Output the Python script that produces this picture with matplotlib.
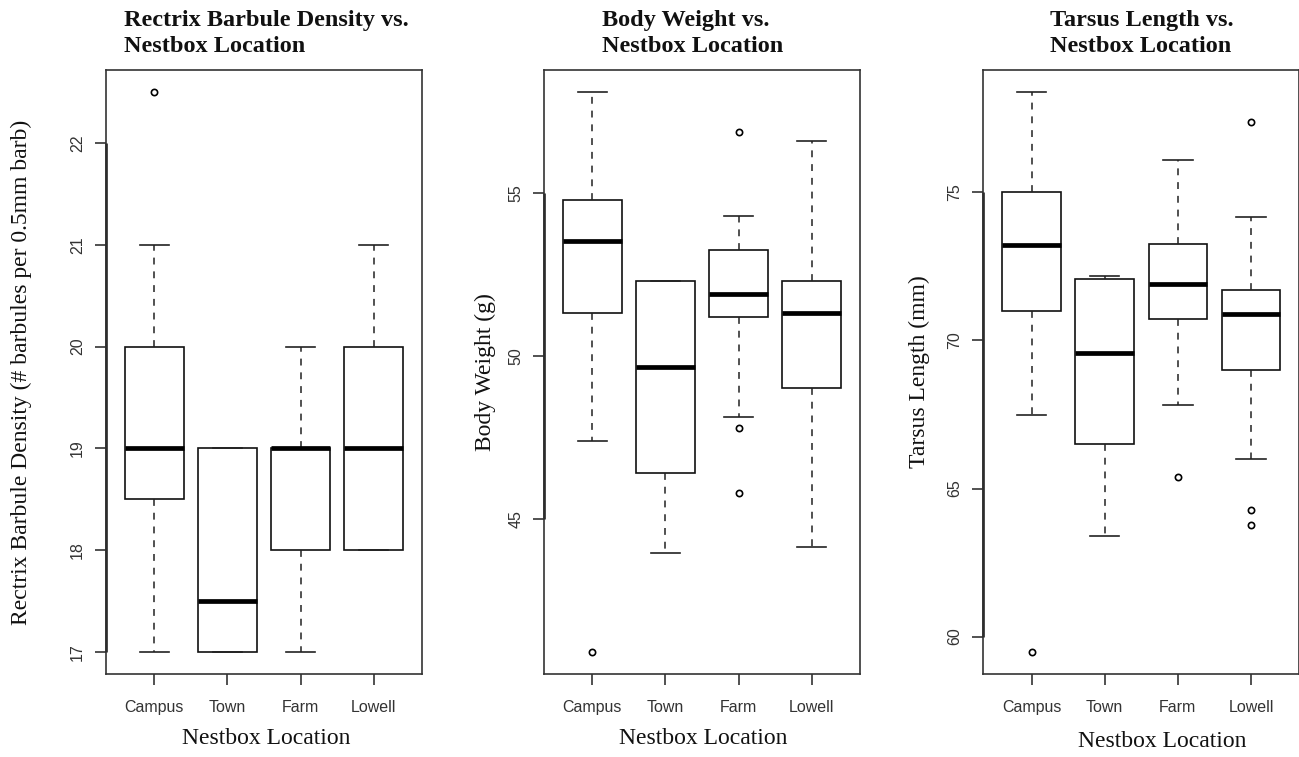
import numpy as np
import matplotlib.pyplot as plt

# nestbox sites (x categories)
sites = ['Campus', 'Town', 'Farm', 'Lowell']

# rectrix barbule density (# barbules per 0.5mm barb)
barb_lo = [17, 17, 17, 18]
barb_q1 = [18.5, 17, 18, 18]
barb_med = [19, 17.5, 19, 19]
barb_q3 = [20, 19, 19, 20]
barb_hi = [21, 19, 20, 21]
barb_out = [[22.5], [], [], []]
barb_ticks = [17, 18, 19, 20, 21, 22]

# body weight (g)
wt_lo = [47.4, 43.94, 48.11, 44.13]
wt_q1 = [51.3, 46.41, 51.19, 49.0]
wt_med = [53.52, 49.65, 51.89, 51.3]
wt_q3 = [54.77, 52.29, 53.26, 52.29]
wt_hi = [58.08, 52.29, 54.28, 56.59]
wt_out = [[40.93], [], [56.88, 47.8, 45.8], []]
wt_ticks = [45, 50, 55]

# tarsus length (mm)
tar_lo = [67.49, 63.39, 67.81, 66.0]
tar_q1 = [71.01, 66.5, 70.71, 69.0]
tar_med = [73.21, 69.58, 71.91, 70.9]
tar_q3 = [75.0, 72.09, 73.27, 71.71]
tar_hi = [78.38, 72.19, 76.1, 74.17]
tar_out = [[59.49], [], [65.39], [77.39, 64.29, 63.78]]
tar_ticks = [60, 65, 70, 75]

serif = 'Liberation Serif'
sans = 'Liberation Sans'
ink = '#111111'


def make_stats(lo, q1, med, q3, hi, out):
    return [dict(whislo=a, q1=b, med=c, q3=d, whishi=e, fliers=f)
            for a, b, c, d, e, f in zip(lo, q1, med, q3, hi, out)]


def panel(ax, st, ticks, title, ylab, tx, ylx, xlx, xly):
    ax.bxp(st, positions=[1, 2, 3, 4], widths=0.8, patch_artist=True,
           boxprops=dict(facecolor='white', edgecolor='#111111', linewidth=1.2),
           medianprops=dict(color='black', linewidth=3.4, solid_capstyle='butt'),
           whiskerprops=dict(color='#222222', linewidth=1.1, linestyle=(0, (4.5, 4.5))),
           capprops=dict(color='#222222', linewidth=1.2),
           flierprops=dict(marker='o', markersize=4.5, markerfacecolor='none',
                           markeredgecolor='black', markeredgewidth=1.2))
    # R style limits: 4% padding on the data range
    vals = [v for s in st for v in [s['whislo'], s['whishi']] + list(s['fliers'])]
    lo, hi = min(vals), max(vals)
    pad = 0.04 * (hi - lo)
    ax.set_ylim(lo - pad, hi + pad)
    ax.set_xlim(0.34, 4.66)
    ax.set_xticks([1, 2, 3, 4], sites)
    ax.set_yticks(ticks)
    ax.tick_params(axis='x', length=8, width=1.1, pad=11, labelsize=11.5,
                   labelcolor='#333333', color='#222222')
    ax.tick_params(axis='y', length=8, width=1.1, pad=7, labelsize=11.5,
                   labelcolor='#333333', color='#222222', labelrotation=90)
    for lab in ax.get_xticklabels() + ax.get_yticklabels():
        lab.set_family(sans)
    for lab in ax.get_yticklabels():
        lab.set_va('center')
    for sp in ax.spines.values():
        sp.set_linewidth(1.2)
        sp.set_color('#333333')
    # axis line between first and last tick
    ax.plot([0.34, 0.34], [ticks[0], ticks[-1]], color='#111111', lw=1.8,
            clip_on=False, solid_capstyle='butt')
    ax.set_title(title, loc='left', x=tx, y=1.007, va='bottom', ha='left',
                 fontsize=17.5, fontweight='bold', family=serif, color=ink,
                 linespacing=1.34)
    ax.set_ylabel(ylab, fontsize=17, family=serif, color=ink, va='center')
    ax.yaxis.set_label_coords(ylx, 0.5)
    ax.set_xlabel('Nestbox Location', fontsize=17, family=serif, color=ink)
    ax.xaxis.set_label_coords(xlx, xly)


fig = plt.figure(figsize=(12.99, 7.57), dpi=100)
W, H = 1299, 757
bot = 1 - 674 / H
hgt = 604 / H

ax1 = fig.add_axes([106 / W, bot, 316 / W, hgt])
ax2 = fig.add_axes([544 / W, bot, 316 / W, hgt])
ax3 = fig.add_axes([983.3 / W, bot, 316 / W, hgt])

panel(ax1, make_stats(barb_lo, barb_q1, barb_med, barb_q3, barb_hi, barb_out),
      barb_ticks, 'Rectrix Barbule Density vs.\nNestbox Location',
      'Rectrix Barbule Density (# barbules per 0.5mm barb)',
      0.057, -0.269, 0.506, -0.089)
panel(ax2, make_stats(wt_lo, wt_q1, wt_med, wt_q3, wt_hi, wt_out),
      wt_ticks, 'Body Weight vs.\nNestbox Location', 'Body Weight (g)',
      0.182, -0.186, 0.503, -0.089)
panel(ax3, make_stats(tar_lo, tar_q1, tar_med, tar_q3, tar_hi, tar_out),
      tar_ticks, 'Tarsus Length vs.\nNestbox Location', 'Tarsus Length (mm)',
      0.211, -0.202, 0.566, -0.094)

fig.savefig('out.png', dpi=100)
